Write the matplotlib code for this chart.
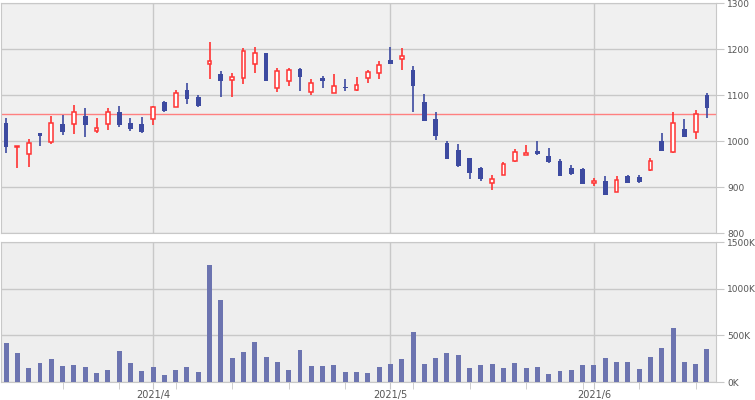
import matplotlib.pyplot as plt
import numpy as np
import pandas as pd

# trading days (Tokyo), 2021-03-15 .. 2021-06-15
holidays = ["2021-04-29", "2021-05-03", "2021-05-04", "2021-05-05"]
dates = pd.bdate_range("2021-03-15", "2021-06-15")
dates = dates[~dates.isin(pd.to_datetime(holidays))]

opens = [1040, 988, 972, 1018, 999, 1037, 1037, 1056, 1022, 1037, 1063, 1040, 1037, 1048, 1085, 1074,
         1111, 1096, 1167, 1146, 1133, 1137, 1167, 1192, 1115, 1130, 1157, 1107, 1137, 1104, 1119, 1111,
         1137, 1148, 1177, 1178, 1155, 1085, 1048, 996, 981, 964, 942, 909, 926, 958, 970, 979,
         968, 957, 942, 940, 909, 913, 889, 925, 922, 938, 1001, 977, 1027, 1020, 1100]
highs = [1051, 990, 1005, 1018, 1055, 1057, 1079, 1072, 1051, 1072, 1077, 1051, 1053, 1077, 1088, 1111,
         1127, 1100, 1216, 1153, 1148, 1203, 1205, 1192, 1159, 1159, 1159, 1135, 1142, 1146, 1135, 1140,
         1155, 1175, 1205, 1203, 1163, 1103, 1064, 1001, 994, 964, 944, 926, 954, 983, 993, 1001,
         985, 961, 948, 942, 920, 925, 925, 927, 927, 964, 1018, 1064, 1048, 1068, 1104]
lows = [975, 943, 945, 990, 995, 1014, 1016, 1010, 1017, 1025, 1030, 1023, 1019, 1036, 1064, 1074,
        1080, 1075, 1136, 1097, 1097, 1125, 1149, 1132, 1108, 1121, 1110, 1101, 1116, 1104, 1110, 1109,
        1126, 1136, 1169, 1156, 1064, 1045, 1003, 962, 945, 919, 914, 895, 926, 956, 970, 971,
        953, 925, 927, 908, 902, 884, 889, 909, 910, 936, 980, 975, 1010, 1006, 1051]
closes = [988, 988, 996, 1012, 1039, 1021, 1063, 1036, 1030, 1063, 1036, 1027, 1021, 1075, 1066, 1104,
          1093, 1077, 1175, 1130, 1139, 1196, 1193, 1132, 1153, 1154, 1140, 1126, 1130, 1120, 1115, 1122,
          1150, 1165, 1169, 1185, 1121, 1045, 1012, 962, 947, 932, 917, 917, 951, 976, 974, 973,
          954, 925, 930, 908, 913, 884, 915, 909, 912, 957, 980, 1039, 1010, 1059, 1073]
volume_k = [419, 311, 150, 204, 247, 172, 183, 161, 97, 129, 333, 204, 118, 161, 75, 129,
            161, 107, 1257, 881, 258, 322, 430, 268, 215, 129, 344, 172, 172, 183, 107, 107,
            97, 161, 193, 247, 537, 193, 258, 311, 290, 150, 183, 193, 150, 204, 150, 161,
            86, 118, 129, 183, 183, 258, 215, 215, 140, 268, 365, 580, 215, 193, 354]
ref_line = 1059

up_col = "#ff3333"
down_col = "#3d4aa0"
vol_col = "#6c74b0"
grid_col = "#c8c8c8"
text_col = "#555555"

o = np.array(opens); h = np.array(highs); l = np.array(lows); c = np.array(closes)
x = np.arange(len(dates))
up = c >= o

fig = plt.figure(figsize=(7.55, 4.0), dpi=100)
ax = fig.add_axes([1 / 755, 1 - 233.3 / 400, 715 / 755, 230 / 400])
axv = fig.add_axes([1 / 755, 1 - 382 / 400, 715 / 755, 139.7 / 400])

month_pos = [i for i in range(1, len(dates)) if dates[i].month != dates[i - 1].month]
month_lab = [f"{dates[i].year}/{dates[i].month}" for i in month_pos]
monday_pos = [i for i in range(1, len(dates)) if dates[i].weekday() == 0]

for a, bg in ((ax, "#f0f0f0"), (axv, "#eeeeee")):
    a.set_facecolor(bg)
    a.set_xlim(-0.45, 62.8)
    for s in a.spines.values():
        s.set_color(grid_col)
    a.yaxis.tick_right()
    a.tick_params(axis="y", colors=grid_col, labelcolor=text_col, labelsize=6.5, length=6, pad=2)
    for p in month_pos:
        a.axvline(p, color=grid_col, lw=1, zorder=0)

# candles
ax.vlines(x, l, h, color=np.where(up, up_col, down_col), lw=1.2, zorder=2)
body_lo = np.minimum(o, c)
body_h = np.maximum(np.abs(c - o), 0.8)
ax.bar(x[up], body_h[up], bottom=body_lo[up], width=0.34, facecolor="white",
       edgecolor=up_col, lw=1.1, zorder=3)
ax.bar(x[~up], body_h[~up], bottom=body_lo[~up], width=0.42, color=down_col, lw=0, zorder=3)
ax.axhline(ref_line, color="#ff8080", lw=1, zorder=1)
ax.set_ylim(800, 1300)
ax.set_yticks(range(800, 1301, 100))
ax.yaxis.grid(True, color=grid_col, lw=1)
ax.set_axisbelow(True)
ax.set_xticks([])

# volume
axv.bar(x, volume_k, width=0.44, color=vol_col, zorder=3)
axv.set_ylim(0, 1500)
axv.set_yticks([0, 500, 1000, 1500])
axv.set_yticklabels([f"{v}K" for v in [0, 500, 1000, 1500]])
axv.yaxis.grid(True, color=grid_col, lw=1)
axv.set_axisbelow(True)
axv.set_xticks(month_pos)
axv.set_xticklabels(month_lab)
axv.set_xticks(monday_pos, minor=True)
axv.tick_params(axis="x", which="both", colors=grid_col, labelcolor=text_col,
                labelsize=7, length=5, pad=1)

fig.savefig("out.png", dpi=100)
